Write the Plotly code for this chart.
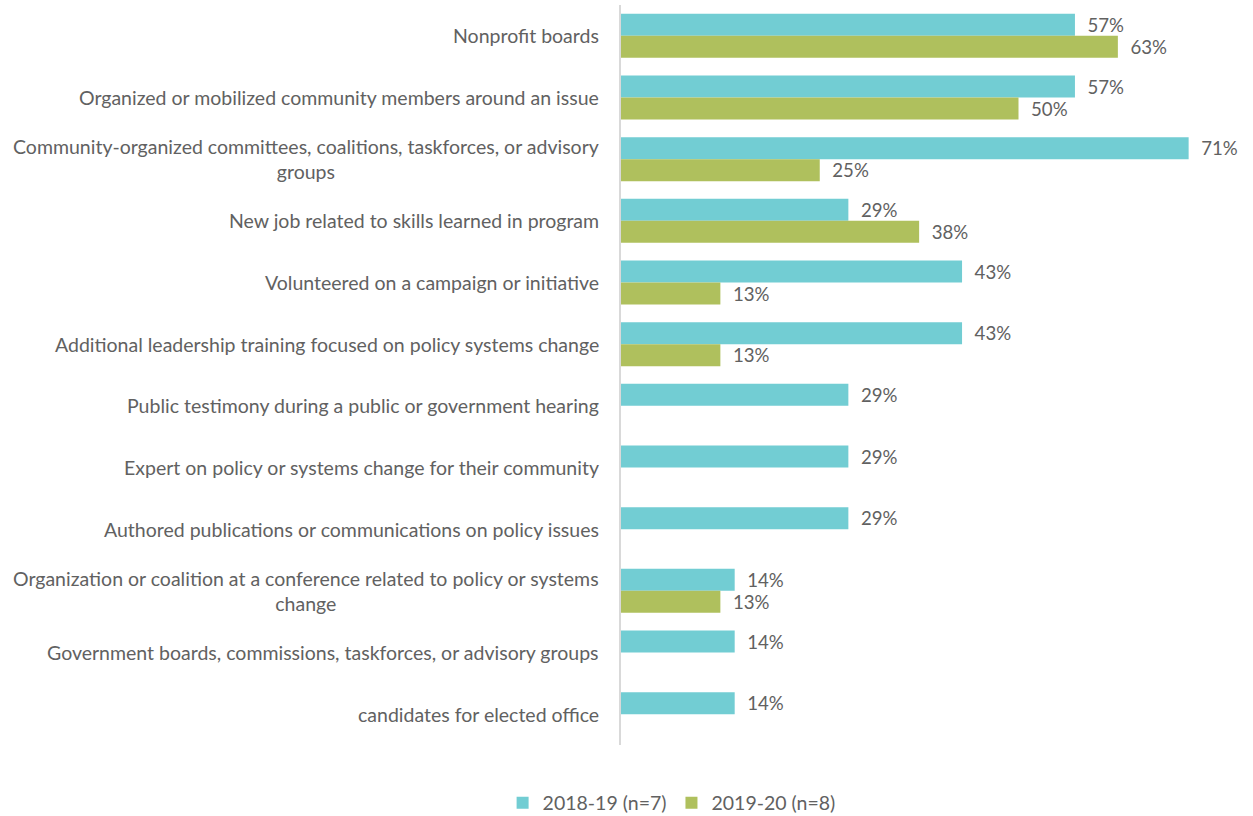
import plotly.graph_objects as go

categories = [
    "Nonprofit boards",
    "Organized or mobilized community members around an issue",
    "Community-organized committees, coalitions, taskforces, or advisory<br>groups",
    "New job related to skills learned in program",
    "Volunteered on a campaign or initiative",
    "Additional leadership training focused on policy systems change",
    "Public testimony during a public or government hearing",
    "Expert on policy or systems change for their community",
    "Authored publications or communications on policy issues",
    "Organization or coalition at a conference related to policy or systems<br>change",
    "Government boards, commissions, taskforces, or advisory groups",
    "candidates for elected office",
]
series_names = ["2018-19 (n=7)", "2019-20 (n=8)"]
values_2018 = [57.1, 57.1, 71.4, 28.6, 42.9, 42.9, 28.6, 28.6, 28.6, 14.3, 14.3, 14.3]
values_2019 = [62.5, 50.0, 25.0, 37.5, 12.5, 12.5, None, None, None, 12.5, None, None]

TEAL = "#72CDD3"
GREEN = "#AFC05D"
TXT = "#616161"
FONT = "Lato"
FS = 19.5

W, H = 1253, 816
ML, MR, MT, MB = 621, 13, 5, 71

ids = list(range(len(categories)))

fig = go.Figure()
for name, vals, col in [(series_names[0], values_2018, TEAL), (series_names[1], values_2019, GREEN)]:
    fig.add_trace(go.Bar(
        name=name, y=ids, x=vals, orientation="h",
        marker=dict(color=col, line=dict(width=0)),
        texttemplate="\u00a0\u00a0%{x:.0f}%", textposition="outside",
        textfont=dict(family=FONT, size=FS, color=TXT),
        cliponaxis=False,
    ))

for i, c in enumerate(categories):
    fig.add_annotation(
        x=-20 / (W - ML - MR), xref="paper", y=i, yref="y",
        text=c, showarrow=False, xanchor="right", yanchor="middle", align="center",
        font=dict(family=FONT, size=FS, color=TXT),
    )

fig.update_layout(
    width=W, height=H,
    margin=dict(l=ML, r=MR, t=MT, b=MB, autoexpand=False),
    barmode="group", bargap=0.287, bargroupgap=0,
    plot_bgcolor="white", paper_bgcolor="white",
    font=dict(family=FONT, size=FS, color=TXT),
    xaxis=dict(range=[0, (W - ML - MR) / 7.95], showgrid=False, showticklabels=False,
               zeroline=False, showline=False, fixedrange=True),
    yaxis=dict(range=[len(categories) - 0.5, -0.5], showticklabels=False, showgrid=False,
               zeroline=False, showline=True, linecolor="#D9D9D9", linewidth=2,
               ticks=""),
    legend=dict(orientation="h", xref="container", yref="container",
                x=0.536, y=1 - 803 / H, xanchor="center", yanchor="middle",
                font=dict(family=FONT, size=FS, color=TXT), itemwidth=30,
                traceorder="normal"),
    showlegend=True,
)

fig.write_html("out.html", config={"displayModeBar": False},
               post_script="document.body.style.margin='0';")
